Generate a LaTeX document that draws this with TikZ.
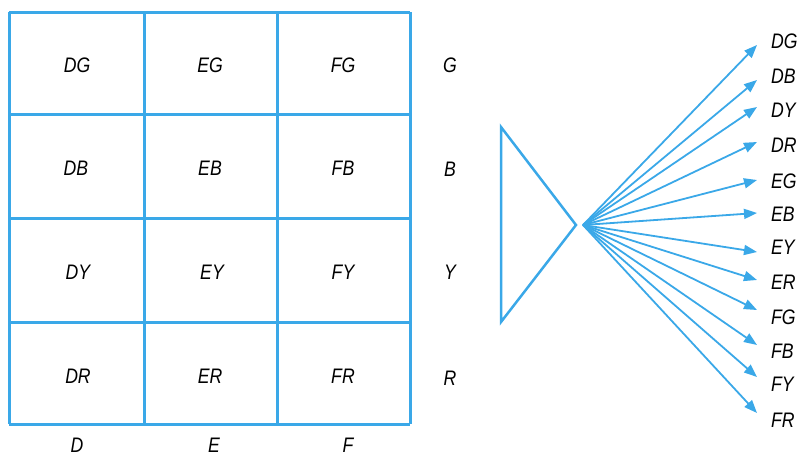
\documentclass[tikz,border=0pt]{standalone}
\usepackage{fontspec}
\setmainfont{Liberation Sans}[FakeStretch=0.84]
\usetikzlibrary{arrows.meta}
\definecolor{lineblue}{HTML}{3AA8E8}
\tikzset{
  gridline/.style={draw=lineblue, line width=3pt},
  lbl/.style={font=\fontsize{21}{21}\selectfont\itshape, inner sep=0pt},
  fanarrow/.style={draw=lineblue, line width=1.8pt, -{Triangle[length=13pt,width=10pt]}},
}
\begin{document}
\begin{tikzpicture}[x=1pt,y=-1pt]
\useasboundingbox (0,0) rectangle (800,458);
% the 3x4 grid
\foreach \x in {9,144,277,410} \draw[gridline] (\x,12) -- (\x,424);
\foreach \y in {12,114,218,322,424} \draw[gridline] (9,\y) -- (410,\y);
% cell labels
\node[lbl] (dg) at (77,65) {DG};
\node[lbl] (eg) at (210,65) {EG};
\node[lbl] (fg) at (343,65) {FG};
\node[lbl] (db) at (76,168) {DB};
\node[lbl] (eb) at (210,168) {EB};
\node[lbl] (fb) at (343,168) {FB};
\node[lbl] (dy) at (78,272) {DY};
\node[lbl] (ey) at (212,272) {EY};
\node[lbl] (fy) at (343,272) {FY};
\node[lbl] (dr) at (78,376) {DR};
\node[lbl] (er) at (210,376) {ER};
\node[lbl] (fr) at (343,376) {FR};
% row and column headings
\node[lbl] (rg) at (450,65) {G};
\node[lbl] (rb) at (450,169) {B};
\node[lbl] (ry) at (450,272) {Y};
\node[lbl] (rr) at (450,378) {R};
\node[lbl, anchor=base] (cd) at (77,452) {D};
\node[lbl, anchor=base] (ce) at (214,452) {E};
\node[lbl, anchor=base] (cf) at (348,452) {F};
% triangle
\draw[draw=lineblue, line width=2.5pt, line join=miter] (501,127) -- (576,225) -- (501,322) -- cycle;
% fan of outcomes
\coordinate (hub) at (583,225);
\foreach \n/\y in {
  DG/41, DB/76, DY/110, DR/145, EG/181, EB/214,
  EY/247, ER/282, FG/317, FB/351, FY/384, FR/420} {
  \node[lbl, anchor=west] (o\n) at (771,\y) {\n};
}
\foreach \n/\ty in {DG/45, DB/80, DY/107, DR/142, EG/180, EB/213,
  EY/252, ER/280, FG/310, FB/345, FY/377, FR/413} {
  \coordinate (t\n) at (757,\ty);
  \draw[fanarrow] (hub) -- (t\n);
}
\end{tikzpicture}
\end{document}
